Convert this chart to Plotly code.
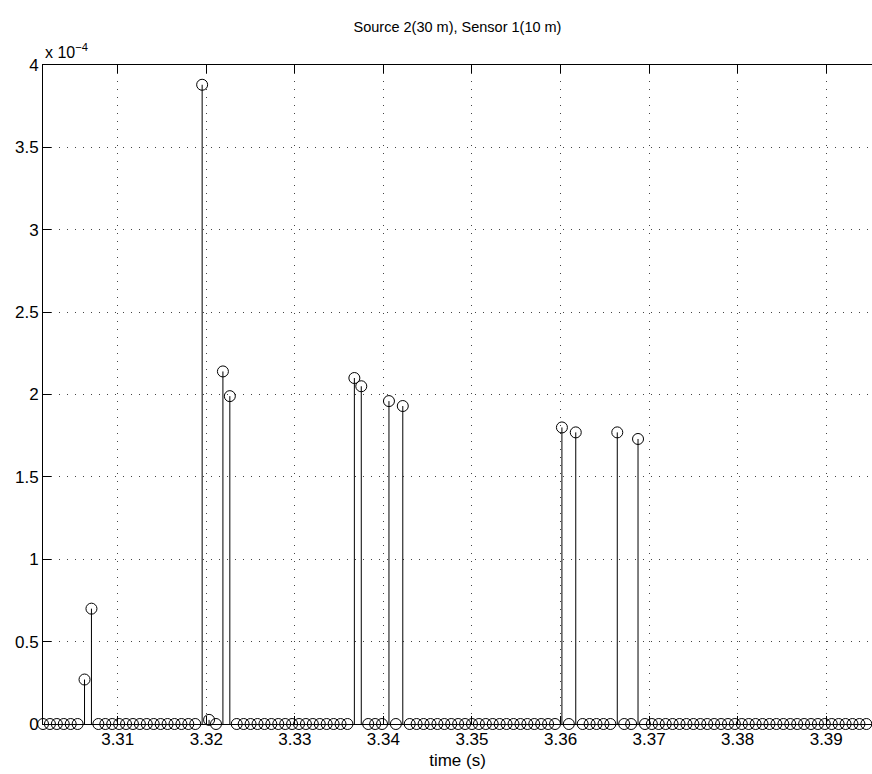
import numpy as np
import plotly.graph_objects as go

# Sampled response: 1280 Hz sampling, 121 samples starting at sample 4226
fs = 1280.0
first_sample = 4226
n_samples = 121

# Non-zero samples (offset from first sample) and their amplitudes (x 1e-4)
peak_offsets = [6, 7, 23, 24, 26, 27, 45, 46, 50, 52, 75, 77, 83, 86]
peak_values = [0.27, 0.70, 3.88, 0.025, 2.14, 1.99, 2.10, 2.05, 1.96, 1.93,
               1.80, 1.77, 1.77, 1.73]

x_ticks = [3.31, 3.32, 3.33, 3.34, 3.35, 3.36, 3.37, 3.38, 3.39]
x_tick_labels = ["3.31", "3.32", "3.33", "3.34", "3.35", "3.36", "3.37", "3.38", "3.39"]
y_ticks = [0, 0.5, 1, 1.5, 2, 2.5, 3, 3.5, 4]
y_tick_labels = ["0", "0.5", "1", "1.5", "2", "2.5", "3", "3.5", "4"]

x_range = [3.30156, 3.39517]
y_range = [0, 4]

t = (first_sample + np.arange(n_samples)) / fs
signal = np.zeros(n_samples)
signal[peak_offsets] = peak_values

# Stem segments from the baseline to each sample
stem_x, stem_y = [], []
for ti, vi in zip(t, signal):
    if vi != 0:
        stem_x += [ti, ti, None]
        stem_y += [0, vi, None]

font_family = "Liberation Sans, Arial, Helvetica, sans-serif"

fig = go.Figure()
fig.add_trace(go.Scatter(
    x=stem_x, y=stem_y, mode="lines",
    line=dict(color="black", width=1),
    hoverinfo="skip", showlegend=False, cliponaxis=False,
))
fig.add_trace(go.Scatter(
    x=t, y=signal, mode="markers",
    marker=dict(symbol="circle-open", size=11, color="black",
                line=dict(color="black", width=1)),
    showlegend=False, cliponaxis=False,
))

fig.update_layout(
    width=872, height=774,
    margin=dict(l=43, r=0, t=65, b=50),
    paper_bgcolor="white", plot_bgcolor="white",
    font=dict(family=font_family, color="black", size=17),
    title=dict(text="Source 2(30 m), Sensor 1(10 m)",
               x=0.5, xref="paper", xanchor="center",
               y=1 - 27 / 774, yref="container", yanchor="middle",
               font=dict(size=14.5, color="black", family=font_family)),
    annotations=[dict(
        text="x 10<sup>\u22124</sup>", x=0, y=1, xref="paper", yref="paper",
        xanchor="left", yanchor="bottom", yshift=2, showarrow=False,
        font=dict(size=16, color="black", family=font_family),
    )],
)

fig.update_xaxes(
    range=x_range, tickvals=x_ticks, ticktext=x_tick_labels,
    ticks="inside", ticklen=8, tickcolor="black", tickwidth=1,
    showline=True, linecolor="black", linewidth=1, mirror="ticks",
    showgrid=True, gridcolor="#444", griddash="1px,7px", gridwidth=1,
    zeroline=False,
    title=dict(text="time (s)", standoff=5, font=dict(size=17)),
)
fig.update_yaxes(
    range=y_range, tickvals=y_ticks, ticktext=y_tick_labels,
    ticks="inside", ticklen=8, tickcolor="black", tickwidth=1,
    showline=True, linecolor="black", linewidth=1, mirror=False,
    showgrid=True, gridcolor="#444", griddash="1px,7px", gridwidth=1,
    zeroline=False,
)

fig.write_html("out.html")
